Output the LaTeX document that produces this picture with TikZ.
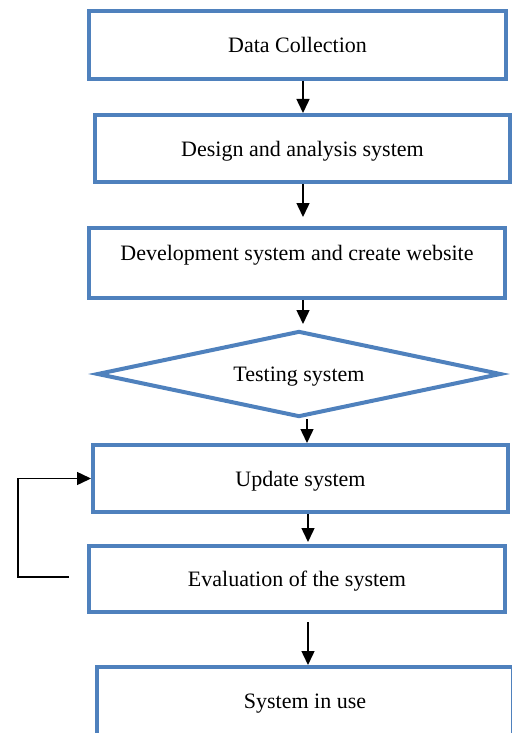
\documentclass[tikz,border=0pt]{standalone}
\usepackage{fontspec}
\setmainfont{Liberation Serif}
\usetikzlibrary{shapes.geometric,arrows.meta}
\definecolor{boxblue}{HTML}{4F81BD}
\begin{document}
\begin{tikzpicture}[x=1pt,y=-1pt,
  font=\fontsize{22}{26}\selectfont,
  box/.style={draw=boxblue,line width=4pt,rectangle,inner sep=0pt,text depth=0pt,minimum width=416pt,minimum height=68pt},
  decision/.style={draw=boxblue,line width=4pt,diamond,aspect=4.8,inner sep=0pt,text depth=0pt,minimum width=404pt,minimum height=86pt},
  arr/.style={-{Triangle[length=14pt,width=13pt]},line width=1.5pt,draw=black}]
\useasboundingbox (0,0) rectangle (511,733);
\node[box,minimum width=417pt] (dc) at (297.5,45) {Data Collection};
\node[box,minimum width=415pt,minimum height=67pt] (da) at (302.5,148.5) {Design and analysis system};
\node[box,minimum height=70pt,text depth=21pt] (dev) at (297,263) {Development system and create website};
\node[decision] (ts) at (299,374) {Testing system};
\node[box,minimum width=415pt,minimum height=67pt] (up) at (300.5,478.5) {Update system};
\node[box,minimum height=66pt] (ev) at (297,579) {Evaluation of the system};
\node[box] (sys) at (305,701) {System in use};
\draw[arr] ([xshift=5.5pt]dc.south) -- ([xshift=0.5pt]da.north);
\draw[arr,shorten >=9pt] ([xshift=0.5pt]da.south) -- ([xshift=6pt]dev.north);
\draw[arr,shorten >=5pt] ([xshift=6pt]dev.south) -- ([xshift=4pt]ts.north);
\draw[arr] ([xshift=8pt]ts.south) -- ([xshift=6.5pt]up.north);
\draw[arr,shorten >=2pt] ([xshift=7.5pt]up.south) -- ([xshift=11pt]ev.north);
\draw[arr,shorten <=8pt] ([xshift=11pt]ev.south) -- ([xshift=3pt]sys.north);
\draw[arr] ([xshift=-18pt,yshift=2pt]ev.west) -- ++(-51,0) |- (up.west);
\end{tikzpicture}
\end{document}
